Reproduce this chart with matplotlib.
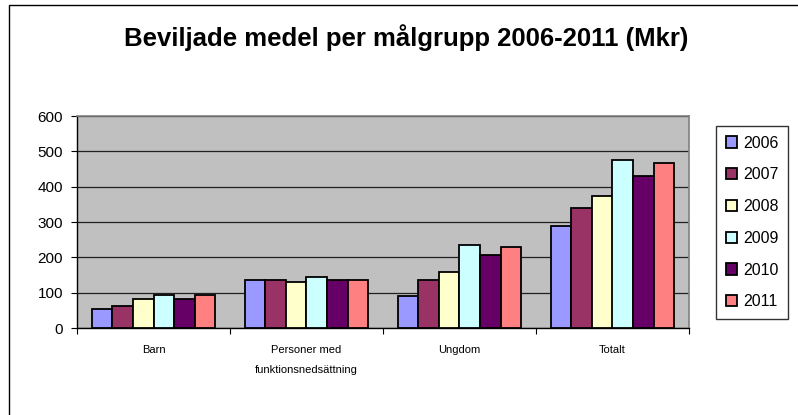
import matplotlib.pyplot as plt
import matplotlib.patches as mpatches
import numpy as np

plt.rcParams['font.family'] = ['Liberation Sans', 'DejaVu Sans']

# data
kategorier = ["Barn", "Personer med\nfunktionsnedsättning", "Ungdom", "Totalt"]
ar = ["2006", "2007", "2008", "2009", "2010", "2011"]
v2006 = [54, 135, 91, 289]
v2007 = [61, 135, 136, 340]
v2008 = [83, 130, 159, 374]
v2009 = [92, 145, 234, 476]
v2010 = [83, 135, 206, 429]
v2011 = [92, 135, 229, 467]
serier = [v2006, v2007, v2008, v2009, v2010, v2011]
farger = ["#9999FF", "#993366", "#FFFFCC", "#CCFFFF", "#660066", "#FF8080"]
yticks = [0, 100, 200, 300, 400, 500, 600]

W, H = 798, 415
fig = plt.figure(figsize=(W / 100, H / 100), dpi=100)

# ram runt hela diagrammet (beskuren till höger och nedtill)
fig.patches.append(mpatches.Rectangle((9 / W, -0.1), 1.2, 1 - 5 / H + 0.1,
                                      transform=fig.transFigure, fill=False,
                                      edgecolor="black", linewidth=1.0))

ax = fig.add_axes([77 / W, 1 - 328 / H, (689 - 77) / W, (328 - 116) / H])
ax.set_facecolor("#C0C0C0")

x = np.arange(len(kategorier))
bw = 0.135
for i, (vals, c) in enumerate(zip(serier, farger)):
    ax.bar(x + (i - 2.5) * bw, vals, bw, color=c, edgecolor="black",
           linewidth=1.3, label=ar[i], zorder=3)

ax.set_xlim(-0.5, len(kategorier) - 0.5)
ax.set_ylim(0, 600)
ax.set_yticks(yticks)
ax.yaxis.grid(True, color="#202020", linewidth=0.9, zorder=1)
ax.set_axisbelow(True)

ax.set_xticks(np.arange(len(kategorier) + 1) - 0.5)
ax.set_xticklabels([])
ax.tick_params(axis="x", direction="out", length=4, width=0.8)
ax.tick_params(axis="y", direction="out", length=4, width=0.8, labelsize=11, pad=6)
for i, k in enumerate(kategorier):
    ax.text(i, -0.08, k, transform=ax.get_xaxis_transform(), ha="center", va="top",
            fontsize=8, linespacing=2.2)

for s in ["left", "bottom"]:
    ax.spines[s].set_color("black")
    ax.spines[s].set_linewidth(1.0)
for s in ["right", "top"]:
    ax.spines[s].set_color("#808080")
    ax.spines[s].set_linewidth(1.2)

fig.text(406 / W, 1 - 38 / H, "Beviljade medel per målgrupp 2006-2011 (Mkr)",
         ha="center", va="center", fontsize=18.5, fontweight="bold")

leg = fig.legend(loc="upper left", bbox_to_anchor=(716 / W, 1 - 126 / H),
                 frameon=True, fancybox=False, edgecolor="black", fontsize=11.5,
                 handlelength=0.7, handleheight=0.7, handletextpad=0.4,
                 labelspacing=1.05, borderpad=0.6, borderaxespad=0)
leg.get_frame().set_linewidth(1.0)

fig.savefig("out.png", dpi=100)
